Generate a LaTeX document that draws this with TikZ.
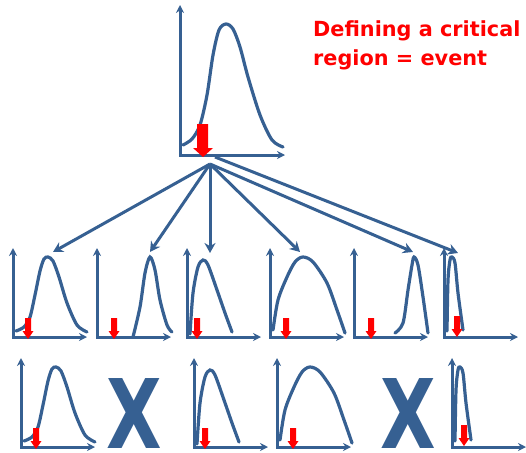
\documentclass[tikz,border=0pt]{standalone}
\usepackage{fontspec}
\usepackage{tikz}
\usetikzlibrary{arrows.meta}
\newfontfamily\titlefont{DejaVu Sans}
\newfontfamily\crossfont[FakeStretch=0.75]{DejaVu Sans Bold}
\definecolor{plotblue}{RGB}{54,96,146}

\tikzset{
  axis/.style={plotblue, line width=3pt, {Stealth[length=8pt,width=8pt]}-{Stealth[length=8pt,width=8pt]}},
  curve/.style={plotblue, line width=3.2pt, line cap=round},
  fan/.style={plotblue, line width=3pt, -{Stealth[length=10pt,width=11pt]}},
  cross/.style={text=plotblue, font=\crossfont\fontsize{96}{96}\selectfont, inner sep=3pt},
  % small plot: axes and the critical-region arrow
  smallaxes/.pic={\draw[axis] (0,-89) -- (0,0) -- (74,0);},
  critarrow/.pic={\fill[red] (-3,-19) -- (3,-19) -- (3,-6) -- (5.5,-6) -- (0,2) -- (-5.5,-6) -- (-3,-6) -- cycle;},
  % curve shapes, relative to the axis corner
  bellcurve/.pic={\draw[curve] plot[smooth] coordinates {(3,-6) (11,-10) (17,-20) (22,-42) (27,-66) (31,-78) (35,-80) (40,-76) (46,-60) (54,-34) (64,-12) (74,-5)};},
  narrowcurve/.pic={\draw[curve] plot[smooth] coordinates {(36,0) (43,-30) (48,-64) (53,-80) (58,-67) (63,-37) (70,-12) (75,-5)};},
  skewcurve/.pic={\draw[curve] plot[smooth] coordinates {(3,-3) (6,-44) (11,-70) (16,-77) (21,-72) (30,-47) (38,-24) (45,-5)};},
  widecurve/.pic={\draw[curve] plot[smooth] coordinates {(3,-7) (8,-37) (17,-60) (25,-75) (33,-80) (43,-75) (57,-54) (67,-27) (75,-4)};},
  latecurve/.pic={\draw[curve] plot[smooth] coordinates {(41,-4) (49,-14) (54,-47) (58,-72) (60,-80) (64,-72) (69,-40) (74,-4)};},
  spikecurve/.pic={\draw[curve] plot[smooth] coordinates {(3,-6) (4,-57) (6,-77) (8,-80) (11,-74) (14,-44) (19,-7)};}
}

\begin{document}
\begin{tikzpicture}[x=1pt, y=-1pt]
    \useasboundingbox (0,0) rectangle (526,452);

    % top plot
    \begin{scope}[shift={(180,155)}]
        \draw[axis] (0,-150) -- (0,0) -- (105,0);
        \draw[curve] plot[smooth] coordinates {(3,-10) (12,-16) (20,-30) (27,-60) (33,-100) (39,-125) (46,-131) (53,-126) (60,-108) (68,-78) (80,-40) (92,-15) (103,-8)};
        \fill[red] (17,-31) -- (28,-31) -- (28,-7) -- (33,-7) -- (23,2) -- (13,-7) -- (17,-7) -- cycle;
        \coordinate (hub) at (30,9);
        \coordinate (hubr) at (35,2);
    \end{scope}

    \node[anchor=base west, text=red, font=\titlefont\bfseries\fontsize{20.8}{24}\selectfont, inner sep=0pt] (title1) at (313,37) {Defining a critical};
    \node[anchor=base west, text=red, font=\titlefont\bfseries\fontsize{20.8}{24}\selectfont, inner sep=0pt] (title2) at (313,65) {region = event};

    % middle row
    \begin{scope}[shift={(13,337)}]
        \pic {smallaxes}; \pic {bellcurve}; \pic at (15,0) {critarrow};
        \coordinate (t1) at (40,-85);
    \end{scope}
    \begin{scope}[shift={(97,337)}]
        \pic {smallaxes}; \pic {narrowcurve}; \pic at (17,0) {critarrow};
        \coordinate (t2) at (53,-85);
    \end{scope}
    \begin{scope}[shift={(187,337)}]
        \pic {smallaxes}; \pic {skewcurve}; \pic at (10,0) {critarrow};
        \coordinate (t3) at (23,-84);
    \end{scope}
    \begin{scope}[shift={(270,337)}]
        \pic {smallaxes}; \pic {widecurve}; \pic at (16,0) {critarrow};
        \coordinate (t4) at (30,-85);
    \end{scope}
    \begin{scope}[shift={(354,337)}]
        \pic {smallaxes}; \pic {latecurve}; \pic at (17,0) {critarrow};
        \coordinate (t5) at (59,-85);
    \end{scope}
    \begin{scope}[shift={(444,337)}]
        \pic {smallaxes}; \pic {spikecurve}; \pic at (13,-2) {critarrow};
        \coordinate (t6) at (14,-84);
    \end{scope}

    % fan of arrows
    \draw[fan] (hub) -- (t1);
    \draw[fan] (hub) -- (t2);
    \draw[fan] (hub) -- (t3);
    \draw[fan] (hub) -- (t4);
    \draw[fan] (hub) -- (t5);
    \draw[fan] (hubr) -- (t6);

    % bottom row
    \begin{scope}[shift={(21,447)}]
        \pic {smallaxes}; \pic {bellcurve}; \pic at (15,0) {critarrow};
    \end{scope}
    \node[cross] (cross2) at (134,413) {X};
    \begin{scope}[shift={(194,447)}]
        \pic {smallaxes}; \pic {skewcurve}; \pic at (11,0) {critarrow};
    \end{scope}
    \begin{scope}[shift={(277,447)}]
        \pic {smallaxes}; \pic {widecurve}; \pic at (16,0) {critarrow};
    \end{scope}
    \node[cross] (cross5) at (408,413) {X};
    \begin{scope}[shift={(452,447)}]
        \pic {smallaxes}; \pic {spikecurve}; \pic at (12,-3) {critarrow};
    \end{scope}
\end{tikzpicture}
\end{document}
